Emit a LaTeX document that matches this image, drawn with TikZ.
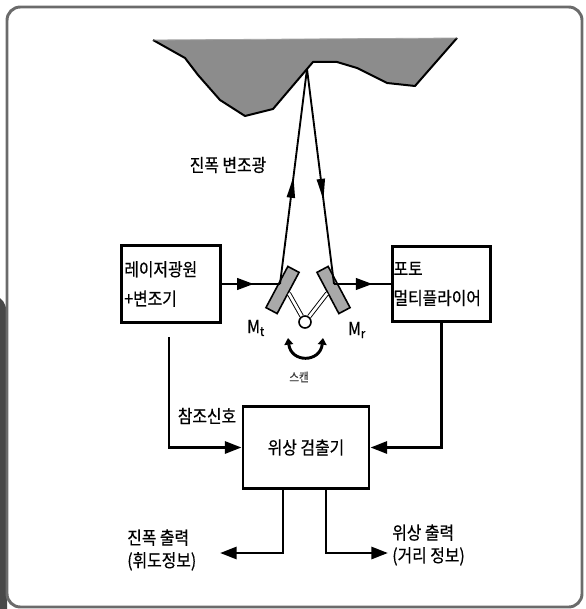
\documentclass[tikz,border=0pt]{standalone}
\usepackage{fontspec}
\setmainfont{Noto Sans CJK KR}[FakeStretch=0.88,FakeBold=0.5]
\usetikzlibrary{arrows.meta,positioning,calc,decorations.markings}
\definecolor{rock}{HTML}{8C8C8C}
\definecolor{mirrorgray}{HTML}{A9A9A9}
\definecolor{rim}{HTML}{6B6B6B}
\definecolor{strip}{HTML}{484848}

\begin{document}
\begin{tikzpicture}[
  x=0.75pt,y=-0.75pt,
  every node/.style={font=\fontsize{13.5}{22}\selectfont},
  box/.style={draw,line width=2.2pt,align=left,inner xsep=2pt},
  link/.style={line width=2.2pt,-{Triangle[length=12.5pt,width=9pt]}},
  beam/.style={line width=1.4pt},
  midarr/.style={postaction={decorate},decoration={markings,
      mark=at position #1 with {\arrow{Triangle[length=12.5pt,width=8.5pt]}}}},
  slimarr/.style={postaction={decorate},decoration={markings,
      mark=at position #1 with {\arrow{Triangle[length=16pt,width=6pt]}}}},
  mirror/.style={draw,line width=1.2pt,fill=mirrorgray,
                 minimum width=35pt,minimum height=9.5pt,inner sep=0pt},
  arm/.style={line width=0.7pt,double=white,double distance=2pt},
  lbl/.style={align=left,inner sep=0pt,font=\fontsize{13.5}{17}\selectfont}
]
\useasboundingbox (0,0) rectangle (585,609);

% outer frame
\fill[strip] (0,298) .. controls (6,304) .. (7,322) -- (7,609) -- (0,609) -- cycle;
\draw[rim,line width=2.2pt,rounded corners=10pt] (7,7) rectangle (582,607);

% target surface
\fill[rock] (153,40) -- (185,58) -- (198,75) -- (220,100) -- (245,116)
  -- (273,109) -- (307,69) -- (313,62) -- (337,62) -- (357,68) -- (387,83)
  -- (415,86) -- (457,38) -- cycle;
\draw[line width=1.5pt,line join=round] (153,40) -- (185,58) -- (198,75)
  -- (220,100) -- (245,116) -- (273,109) -- (307,69) -- (313,62) -- (337,62)
  -- (357,68) -- (387,83) -- (415,86) -- (457,38);
\draw[rim!60,line width=0.6pt] (153,40) -- (457,38);
\coordinate (spot) at (307,69);

% blocks
\node[box,text width=70pt,minimum height=58pt] (laser) at (171,284)
  {레이저광원\\+변조기};
\node[box,text width=72pt,inner xsep=1pt,minimum height=56pt] (pmt) at (441.5,284)
  {포토\\멀티플라이어};
\node[box,minimum width=94.5pt,minimum height=61pt,align=center] (det) at (306,447.5)
  {위상 검출기};

% scanning mirrors
\node[mirror,rotate=62] (Mt) at (282.5,290) {};
\node[mirror,rotate=-62] (Mr) at (333.5,290) {};
\node[circle,draw,line width=1.2pt,fill=white,minimum size=9pt,inner sep=0pt]
  (pivot) at (305,322) {};
\draw[arm] (Mt.south) -- (pivot);
\draw[arm] (Mr.south) -- (pivot);
\coordinate (hitT) at (280,284);
\coordinate (hitR) at (334,284);

\draw[line width=2.2pt,{Triangle[length=5pt,width=6.5pt]}-{Triangle[length=5pt,width=6.5pt]}]
  (288,338) .. controls (291,363) and (320,363) .. (323,338);
\node[font=\fontsize{9}{10}\selectfont,text=black!75] (scan) at (299,377) {스캔};
\node (mtlbl) at (256,328) {M\textsubscript{t}};
\node (mrlbl) at (357,330) {M\textsubscript{r}};

% optical paths
\draw[line width=2.2pt,midarr=0.55] (laser.east |- hitT) -- (hitT);
\draw[line width=2.2pt,midarr=0.68] (hitR) -- (pmt.west |- hitR);
\draw[beam,slimarr=0.5] (hitT) -- (spot);
\draw[beam,slimarr=0.61] (spot) -- (hitR);
\node[lbl] (modlbl) at (228,165) {진폭 변조광};

% signal paths
\coordinate (refstart) at (169,337);
\draw[link] (refstart) |- (det.west);
\node[lbl] (reflbl) at (207,416) {참조신호};
\draw[link] (pmt.south) |- (det.east);

\coordinate (ampend) at (220,553);
\coordinate (phend) at (388,553);
\draw[link] ([xshift=-17.25pt]det.south) |- (ampend);
\draw[link] ([xshift=15pt]det.south) |- (phend);
\node[lbl,anchor=west] (ampout) at (127,550) {진폭 출력\\(휘도정보)};
\node[lbl,anchor=west] (phout) at (392,545) {위상 출력\\(거리 정보)};
\end{tikzpicture}
\end{document}
